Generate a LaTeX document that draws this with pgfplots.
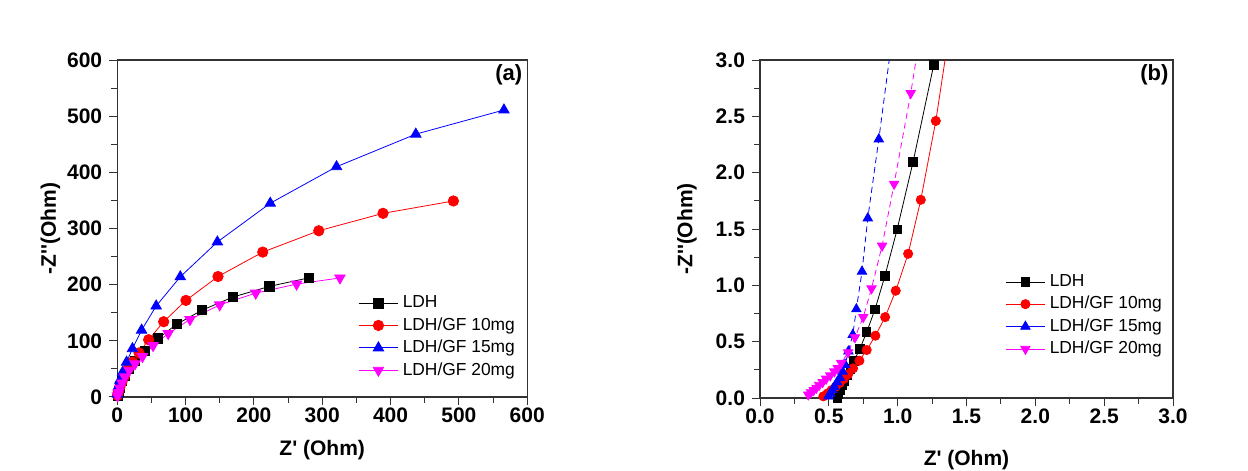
\documentclass[border=0pt]{standalone}
\usepackage{pgfplots}
\pgfplotsset{compat=1.18}
\usepackage{fontspec}
\setmainfont{Liberation Sans}
\definecolor{mag}{RGB}{255,0,255}
\pgfplotsset{
  myax/.style={
    scale only axis,
    axis line style={line width=0.6pt, black!80},
    tick align=outside, tick pos=left,
    major tick length=4pt, minor tick length=3pt,
    every tick/.style={black!80, line width=0.5pt},
    /pgf/number format/assume math mode=true,
    ticklabel style={font=\bfseries\fontsize{10.5}{12}\selectfont},
    xticklabel style={yshift=2pt},
    label style={font=\bfseries\fontsize{10.5}{12}\selectfont},
    legend style={draw=none, fill=none, font=\fontsize{8.7}{10}\selectfont, row sep=-0.6pt, anchor=north west},
    legend cell align=left,
    legend image code/.code={\draw[mark repeat=2,mark phase=2] plot coordinates {(0cm,0cm)(0.35cm,0cm)(0.7cm,0cm)};},
  },
}
\begin{document}
\begin{tikzpicture}[x=1pt,y=1pt]
\useasboundingbox (0,0) rectangle (624,235.5);
\begin{axis}[myax,
  at={(58.6pt,37pt)}, anchor=south west,
  width=205pt, height=168.5pt,
  xmin=0, xmax=600, ymin=0, ymax=600,
  xtick={0,100,...,600}, ytick={0,100,...,600},
  minor x tick num=1, minor y tick num=1,
  xlabel={Z\textquotesingle{} (Ohm)}, ylabel={-Z\textquotesingle\textquotesingle(Ohm)},
  xlabel style={at={(axis description cs:0.5,-0.157)}, anchor=center},
  ylabel style={at={(axis description cs:-0.163,0.5)}, anchor=center},
  legend style={at={(axis description cs:0.572,0.325)}},
]
\addplot[black, line width=0.4pt, mark=square*, mark size=2.3pt] coordinates {
(0.5,3) (2,10) (4,17) (7,28) (10.7,38.6) (16.6,51) (25.4,64) (40.6,81.5) (60,104.5) (87,129.5) (124,154.5) (169.5,178) (222.8,197) (280,212)};
\addlegendentry{LDH}
\addplot[red, line width=0.4pt, mark=*, mark size=2.6pt] coordinates {
(0.5,3) (2,10) (4,18) (7,27) (11,38) (16,50.5) (22.5,62) (32,78.5) (46,102) (68,134) (100.6,172) (147.5,214.5) (213,258) (295,296) (389,327) (492,349)};
\addlegendentry{LDH/GF 10mg}
\addplot[blue, line width=0.4pt, mark=triangle*, mark size=3pt] coordinates {
(0.5,5) (1.5,18) (4,30) (7.9,44) (13.7,62) (22.3,86) (35.7,119) (57,162) (92.3,214) (146.6,276) (224,345) (321,410) (437,468) (566,511)};
\addlegendentry{LDH/GF 15mg}
\addplot[mag, line width=0.4pt, mark=triangle*, mark options={rotate=180}, mark size=3pt] coordinates {
(0.5,2) (2,8) (4,16) (7,25) (11,36) (17.6,47.5) (26,59) (37,72) (52.5,91.5) (74.7,113) (106.5,138) (150,164) (202.7,185) (262.5,201) (326,212)};
\addlegendentry{LDH/GF 20mg}
\node[font=\bfseries\fontsize{11}{13}\selectfont] at (axis description cs:0.955,0.955) {(a)};
\end{axis}
\begin{axis}[myax,
  at={(380pt,36.5pt)}, anchor=south west,
  width=206.5pt, height=169pt,
  xmin=0, xmax=3, ymin=0, ymax=3,
  xtick={0,0.5,...,3}, ytick={0,0.5,...,3},
  minor x tick num=1, minor y tick num=1,
  xticklabel style={/pgf/number format/.cd, fixed, fixed zerofill, precision=1},
  yticklabel style={/pgf/number format/.cd, fixed, fixed zerofill, precision=1},
  xlabel={Z\textquotesingle{} (Ohm)}, ylabel={-Z\textquotesingle\textquotesingle(Ohm)},
  xlabel style={at={(axis description cs:0.5,-0.183)}, anchor=center},
  ylabel style={at={(axis description cs:-0.177,0.5)}, anchor=center},
  legend style={at={(axis description cs:0.578,0.39)}},
  clip=true,
]
\addplot[black, line width=0.4pt, mark=square*, mark size=2.1pt] coordinates {
(0.56,0.0) (0.57,0.03) (0.585,0.07) (0.60,0.11) (0.615,0.15) (0.635,0.20) (0.655,0.26) (0.683,0.331) (0.725,0.435) (0.775,0.585) (0.836,0.789) (0.907,1.082) (0.996,1.496) (1.112,2.096) (1.262,2.956)};
\addlegendentry{LDH}
\addplot[red, line width=0.4pt, mark=*, mark size=2.3pt] coordinates {
(0.46,0.015) (0.49,0.04) (0.52,0.07) (0.55,0.10) (0.58,0.135) (0.61,0.17) (0.64,0.21) (0.676,0.263) (0.722,0.331) (0.775,0.426) (0.838,0.553) (0.909,0.718) (0.986,0.952) (1.076,1.28) (1.168,1.759) (1.277,2.459) (1.40,3.45)};
\addlegendentry{LDH/GF 10mg}
\addplot[blue, line width=0.4pt, densely dashed, mark=triangle*, mark options={solid}, mark size=2.7pt, legend image post style={solid}] coordinates {
(0.497,0.015) (0.51,0.04) (0.525,0.07) (0.54,0.10) (0.56,0.14) (0.58,0.18) (0.60,0.235) (0.618,0.296) (0.642,0.414) (0.674,0.562) (0.70,0.789) (0.741,1.123) (0.783,1.596) (0.863,2.297) (0.96,3.2)};
\addlegendentry{LDH/GF 15mg}
\addplot[mag, line width=0.4pt, densely dashed, mark=triangle*, mark options={solid,rotate=180}, mark size=2.7pt, legend image post style={solid}] coordinates {
(0.35,0.03) (0.37,0.05) (0.39,0.07) (0.41,0.09) (0.43,0.115) (0.455,0.14) (0.48,0.17) (0.51,0.20) (0.54,0.235) (0.565,0.265) (0.59,0.31) (0.64,0.405) (0.69,0.538) (0.75,0.718) (0.81,0.972) (0.887,1.351) (0.974,1.9) (1.095,2.705) (1.16,3.2)};
\addlegendentry{LDH/GF 20mg}
\node[font=\bfseries\fontsize{11}{13}\selectfont] at (axis description cs:0.955,0.955) {(b)};
\end{axis}
\end{tikzpicture}
\end{document}
